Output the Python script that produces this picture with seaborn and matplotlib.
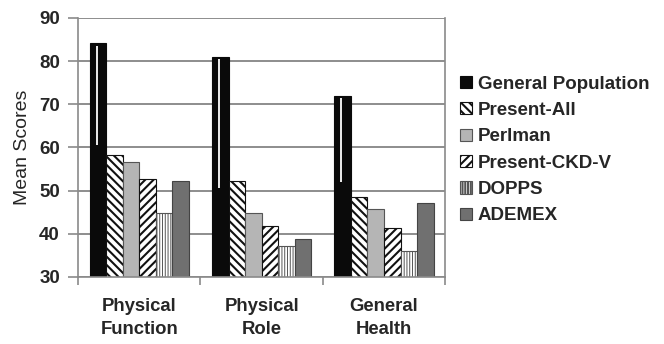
import matplotlib
matplotlib.use("Agg")
import matplotlib.pyplot as plt
from matplotlib.patches import Patch
import seaborn as sns
import pandas as pd

# SF-36 domain scores by cohort
domains = ["Physical\nFunction", "Physical\nRole", "General\nHealth"]
cohorts = ["General Population", "Present-All", "Perlman", "Present-CKD-V", "DOPPS", "ADEMEX"]
general_population = [84.2, 81.0, 72.0]
present_all = [58.3, 52.3, 48.4]
perlman = [56.6, 44.9, 45.7]
present_ckd_v = [52.7, 41.9, 41.3]
dopps = [44.8, 37.1, 36.1]
ademex = [52.3, 38.8, 47.1]
# lower end of the white highlight stroke on the General Population bars
highlight_floor = [60.5, 50.5, 52.0]

series = [general_population, present_all, perlman, present_ckd_v, dopps, ademex]
rows = []
for name, vals in zip(cohorts, series):
    for d, v in zip(domains, vals):
        rows.append({"Domain": d, "Cohort": name, "Score": v})
df = pd.DataFrame(rows)

styles = {
    "General Population": dict(facecolor="#0a0a0a", hatch=None, edgecolor="#0a0a0a", hlw=1.4),
    "Present-All": dict(facecolor="white", hatch="\\\\\\\\", edgecolor="#111111", hlw=1.5),
    "Perlman": dict(facecolor="#b5b5b5", hatch=None, edgecolor="#555555", hlw=1.4),
    "Present-CKD-V": dict(facecolor="white", hatch="////", edgecolor="#111111", hlw=1.5),
    "DOPPS": dict(facecolor="white", hatch="||||||", edgecolor="#555555", hlw=0.7),
    "ADEMEX": dict(facecolor="#707070", hatch=None, edgecolor="#444444", hlw=1.4),
}

sns.set_theme(style="white")
plt.rcParams["font.family"] = ["Liberation Sans", "DejaVu Sans"]
plt.rcParams["hatch.linewidth"] = 1.5


def style_patch(p, st):
    p.set_facecolor(st["facecolor"])
    p.set_edgecolor(st["edgecolor"])
    p.set_linewidth(0.8)
    if st["hatch"]:
        p.set_hatch(st["hatch"])
        if hasattr(p, "set_hatch_linewidth"):
            p.set_hatch_linewidth(st["hlw"])


fig = plt.figure(figsize=(6.64, 3.44), dpi=100)
ax = fig.add_axes([0.1175, 0.195, 0.553, 0.753])

sns.barplot(data=df, x="Domain", y="Score", hue="Cohort", order=domains,
            hue_order=cohorts, width=0.81, gap=0, ax=ax, legend=False,
            palette=["#000000"] * len(cohorts), saturation=1, errorbar=None)

for name, cont in zip(cohorts, ax.containers):
    for bar in cont:
        style_patch(bar, styles[name])

# white highlight stroke inside each General Population bar
for bar, low in zip(ax.containers[0], highlight_floor):
    xc = bar.get_x() + bar.get_width() * 0.42
    ax.plot([xc, xc], [low, bar.get_height() - 0.6], color="white", lw=1.3,
            solid_capstyle="butt", zorder=5)

ax.set_ylim(30, 90)
ax.set_xlim(-0.5, 2.5)
ax.set_yticks([30, 40, 50, 60, 70, 80, 90])
ax.yaxis.grid(True, color="#7a7a7a", linewidth=1.2)
ax.set_axisbelow(True)
for s in ["left", "bottom", "right"]:
    ax.spines[s].set_color("#8a8a8a")
    ax.spines[s].set_linewidth(1.2)
ax.spines["top"].set_visible(False)

ax.tick_params(axis="y", which="major", left=True, length=7, width=1.2,
               color="#8a8a8a", pad=6, labelsize=13.5)
for lab in ax.get_yticklabels():
    lab.set_fontweight("bold")
ax.set_xticks([0, 1, 2])
ax.set_xticklabels(domains, fontsize=13.3, fontweight="bold", linespacing=1.5)
ax.set_xticks([-0.5, 0.5, 1.5, 2.5], minor=True)
ax.tick_params(axis="x", which="major", length=0, pad=15)
ax.tick_params(axis="x", which="minor", bottom=True, length=6, width=1.2,
               color="#8a8a8a")
ax.set_xlabel("")
ax.set_ylabel("Mean Scores", fontsize=14, labelpad=6)

handles = []
for c in cohorts:
    h = Patch(label=c)
    style_patch(h, styles[c])
    handles.append(h)
leg = ax.legend(handles=handles, loc="center left", bbox_to_anchor=(0.995, 0.49),
                frameon=False, handlelength=0.62, handleheight=0.62,
                handletextpad=0.32, labelspacing=0.5,
                prop={"size": 13.5, "weight": "bold"})

fig.savefig("out.png", dpi=100)
